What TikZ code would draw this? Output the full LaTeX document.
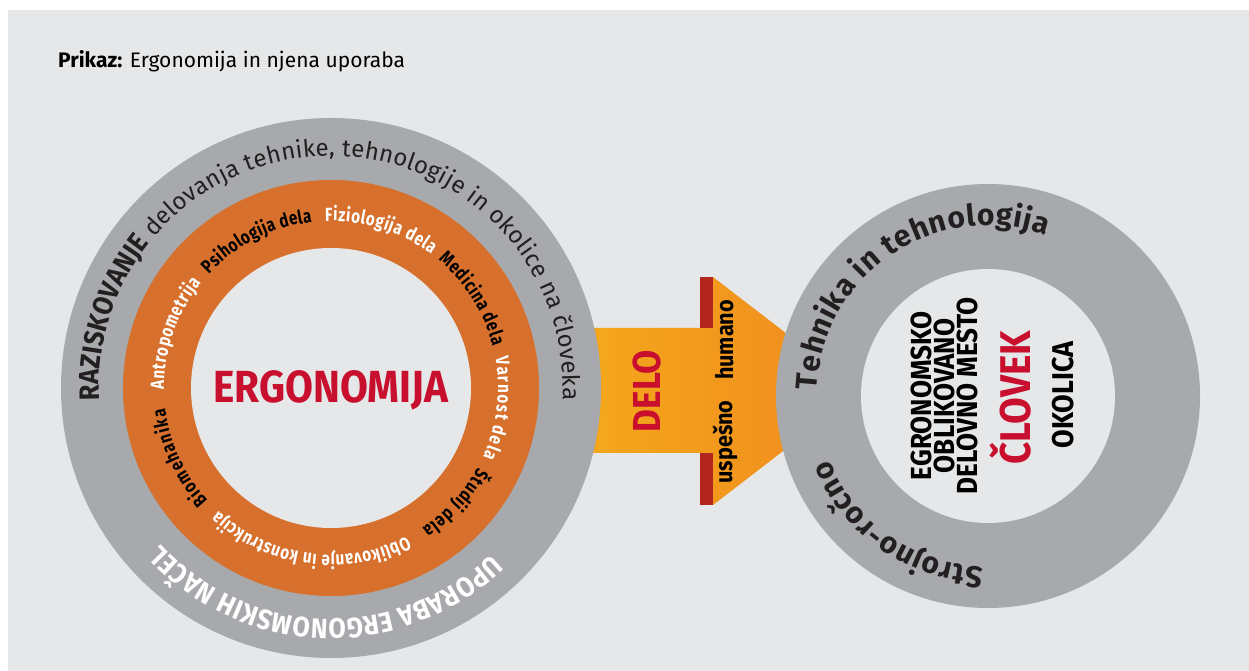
\documentclass[tikz,border=0pt]{standalone}
\usepackage{fontspec}
\setmainfont{Fira Sans}
\newfontfamily\narrowfont[FakeStretch=0.9]{Fira Sans}
\newfontfamily\slimfont[FakeStretch=0.8]{Fira Sans}
\usetikzlibrary{decorations.text, calc}

\definecolor{panelgray}{HTML}{E6E7E8}
\definecolor{ringgray}{HTML}{A7A9AC}
\definecolor{ringorange}{HTML}{D6702C}
\definecolor{ergored}{HTML}{C8102E}
\definecolor{arrowyellow}{HTML}{F5AB1B}
\definecolor{arroworange}{HTML}{EF881F}
\definecolor{barred}{HTML}{B3261E}
\definecolor{inkgray}{HTML}{231F20}

\newcommand\outercaps{\narrowfont\bfseries\fontsize{28}{28}\selectfont}
\newcommand\outerplain{\normalfont\fontsize{24}{24}\selectfont}
\newcommand\orangelab{\slimfont\bfseries\fontsize{19}{19}\selectfont}
\newcommand\rightlab{\normalfont\bfseries\fontsize{30}{30}\selectfont}

\begin{document}
\begin{tikzpicture}[x=1pt, y=1pt,
    ringtext/.style={decorate, decoration={text along path, text align=fit to path, text={#1}}},
    upword/.style={rotate=90, inner sep=0pt, anchor=base},
]
    \useasboundingbox (0, 0) rectangle (1249, 671);
    \fill[white] (0, 0) rectangle (1249, 671);
    \fill[panelgray] (8, 0) rectangle (1249, 661);
    \node[anchor=base west, inner sep=0pt, font=\fontsize{21}{21}\selectfont] (title) at (58, 603) {\textbf{Prikaz:} Ergonomija in njena uporaba};

    \coordinate (lc) at (331, 283);
    \coordinate (rc) at (988, 275);

    \shade[left color=arrowyellow, right color=arroworange] (560, 218) -- (713, 218) -- (713, 166) -- (861, 280) -- (713, 394) -- (713, 343) -- (560, 343) -- cycle;
    \fill[barred] (700, 343) rectangle (713, 394);
    \fill[barred] (700, 166) rectangle (713, 218);

    \fill[ringgray] (lc) circle[radius=270];
    \fill[ringorange] (lc) circle[radius=208];
    \fill[panelgray] (lc) circle[radius=140];
    \fill[ringgray] (rc) circle[radius=212];
    \fill[panelgray] (rc) circle[radius=127];

    \path[ringtext={|\outercaps\color{inkgray}|RAZISKOVANJE |\outerplain\color{inkgray}|delovanja tehnike, tehnologije in okolice na človeka}] ($(lc)+(183:232)$) arc[start angle=183, end angle=-3, radius=232];
    \path[ringtext={|\outercaps\color{white}|UPORABA ERGONOMSKIH NAČEL}] ($(lc)+(-46:231)$) arc[start angle=-46, end angle=-137.5, radius=231];

    \path[ringtext={|\orangelab\color{white}|Antropometrija}] ($(lc)+(180.5:167)$) arc[start angle=180.5, end angle=141, radius=167];
    \path[ringtext={|\orangelab\color{black}|Psihologija dela}] ($(lc)+(137:167)$) arc[start angle=137, end angle=96.5, radius=167];
    \path[ringtext={|\orangelab\color{white}|Fiziologija dela}] ($(lc)+(92:167)$) arc[start angle=92, end angle=53, radius=167];
    \path[ringtext={|\orangelab\color{black}|Medicina dela}] ($(lc)+(50:167)$) arc[start angle=50, end angle=14.5, radius=167];
    \path[ringtext={|\orangelab\color{white}|Varnost dela}] ($(lc)+(10.5:167)$) arc[start angle=10.5, end angle=-24.5, radius=167];
    \path[ringtext={|\orangelab\color{black}|Študij dela}] ($(lc)+(-28.5:167)$) arc[start angle=-28.5, end angle=-57, radius=167];
    \path[ringtext={|\orangelab\color{white}|Oblikovanje in konstrukcija}] ($(lc)+(-63:167)$) arc[start angle=-63, end angle=-132.5, radius=167];
    \path[ringtext={|\orangelab\color{black}|Biomehanika}] ($(lc)+(-137.5:167)$) arc[start angle=-137.5, end angle=-173, radius=167];

    \node[anchor=base, inner sep=0pt, text=ergored, font=\narrowfont\bfseries\fontsize{45}{45}\selectfont] (ergo) at (331, 268) {ERGONOMIJA};

    \node[upword, text=ergored, font=\narrowfont\bfseries\fontsize{39}{39}\selectfont] (delo) at (660, 280) {DELO};
    \node[upword, font=\narrowfont\bfseries\fontsize{24}{24}\selectfont] (humano) at (733, 331) {humano};
    \node[upword, font=\narrowfont\bfseries\fontsize{24}{24}\selectfont] (uspesno) at (732, 229) {uspešno};

    \path[ringtext={|\rightlab\color{inkgray}|Tehnika in tehnologija}] ($(rc)+(178:171)$) arc[start angle=178, end angle=70, radius=171];
    \path[ringtext={|\rightlab\color{inkgray}|Strojno-ročno}] ($(rc)+(-91.5:171)$) arc[start angle=-91.5, end angle=-158, radius=171];

    \node[rotate=90, inner sep=0pt, align=center, font=\narrowfont\bfseries\fontsize{29}{23}\selectfont] (mesto) at (944, 275) {EGRONOMSKO\\OBLIKOVANO\\DELOVNO MESTO};
    \node[upword, text=ergored, font=\narrowfont\bfseries\fontsize{43}{43}\selectfont] (clovek) at (1030, 273) {ČLOVEK};
    \node[upword, font=\narrowfont\bfseries\fontsize{30}{30}\selectfont] (okolica) at (1073, 276) {OKOLICA};
\end{tikzpicture}
\end{document}
